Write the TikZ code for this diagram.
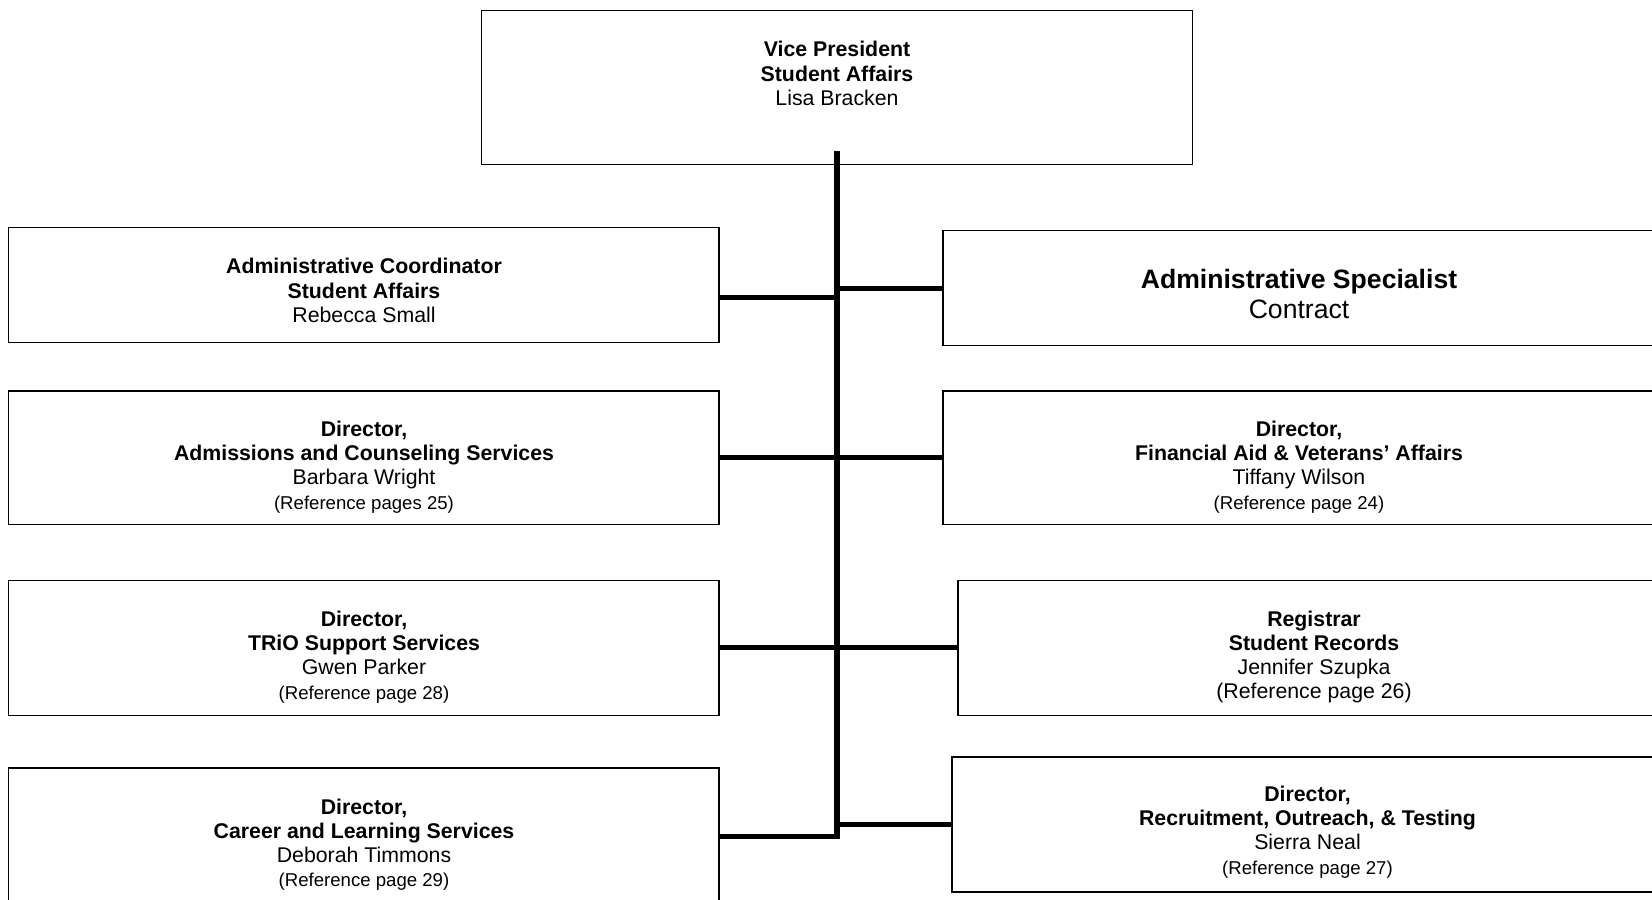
\documentclass[tikz,border=0pt]{standalone}
\usepackage{fontspec}
\setmainfont{Liberation Sans}
\usetikzlibrary{fit,calc}

\newcommand{\refsize}{\fontsize{9.3}{11.6}\selectfont}
\newcommand{\bigsize}{\fontsize{13.3}{15.4}\selectfont}

\begin{document}
\begin{tikzpicture}[
      x=0.5pt, y=-0.5pt,
      box/.style={
         draw=black,
         line width=0.6pt,
         inner sep=0pt},
      boxtext/.style={
         align=center,
         inner sep=0pt,
         font=\fontsize{10.65}{12.1}\selectfont},
      link/.style={line width=2.5pt},
      trunk/.style={line width=3pt}
      ]
      \useasboundingbox (0,0) rectangle (1652,899);
      \clip (0,0) rectangle (1652,899);

      % boxes
      \node[box, fit={(481.5,10.5) (1192.7,164.4)}] (vp) {};
      \node[box, fit={(8.5,227.6) (719,342.4)}] (coord) {};
      \node[box, fit={(8.5,390.9) (719,524.7)}] (adm) {};
      \node[box, fit={(8.5,580.5) (719,715.4)}] (trio) {};
      \node[box, fit={(8.5,768) (719,904)}] (career) {};
      \node[box, fit={(943,230.5) (1656,345.6)}] (spec) {};
      \node[box, fit={(943,390.9) (1656,524.7)}] (aid) {};
      \node[box, fit={(958,580.5) (1670,715.4)}] (records) {};
      \node[box, fit={(952,757) (1663,892)}] (outreach) {};

      % texts
      \node[boxtext] (vptxt) at (837,73.5)
        {\textbf{Vice President}\\ \textbf{Student Affairs}\\ Lisa Bracken};
      \node[boxtext] (coordtxt) at (364,290.5)
        {\textbf{Administrative Coordinator}\\ \textbf{Student Affairs}\\ Rebecca Small};
      \node[boxtext] (admtxt) at (364,467)
        {\textbf{Director,}\\ \textbf{Admissions and Counseling Services}\\ Barbara Wright\\ {\refsize (Reference pages 25)}};
      \node[boxtext] (triotxt) at (364,657)
        {\textbf{Director,}\\ \textbf{TRiO Support Services}\\ Gwen Parker\\ {\refsize (Reference page 28)}};
      \node[boxtext] (careertxt) at (364,844.5)
        {\textbf{Director,}\\ \textbf{Career and Learning Services}\\ Deborah Timmons\\ {\refsize (Reference page 29)}};
      \node[boxtext, font=\bigsize] (spectxt) at (1299,294)
        {\textbf{Administrative Specialist}\\ Contract};
      \node[boxtext] (aidtxt) at (1299,467)
        {\textbf{Director,}\\ \textbf{Financial Aid \& Veterans’ Affairs}\\ Tiffany Wilson\\ {\refsize (Reference page 24)}};
      \node[boxtext] (recordstxt) at (1314,657)
        {\textbf{Registrar}\\ \textbf{Student Records}\\ Jennifer Szupka\\ (Reference page 26)};
      \node[boxtext] (outreachtxt) at (1307.5,832)
        {\textbf{Director,}\\ \textbf{Recruitment, Outreach, \& Testing}\\ Sierra Neal\\ {\refsize (Reference page 27)}};

      % connectors
      \coordinate (top) at (837,151);
      \coordinate (bottom) at (837,838.5);
      \coordinate (coordlink) at ($(coord.east)+(0,12.7)$);
      \draw[trunk] (top) -- (bottom);
      \draw[link] (coordlink) -- (coordlink -| top);
      \foreach \b in {adm,trio,career}
        \draw[link] (\b.east) -- (\b.east -| top);
      \foreach \b in {spec,aid,records,outreach}
        \draw[link] (\b.west -| top) -- (\b.west);
\end{tikzpicture}
\end{document}
